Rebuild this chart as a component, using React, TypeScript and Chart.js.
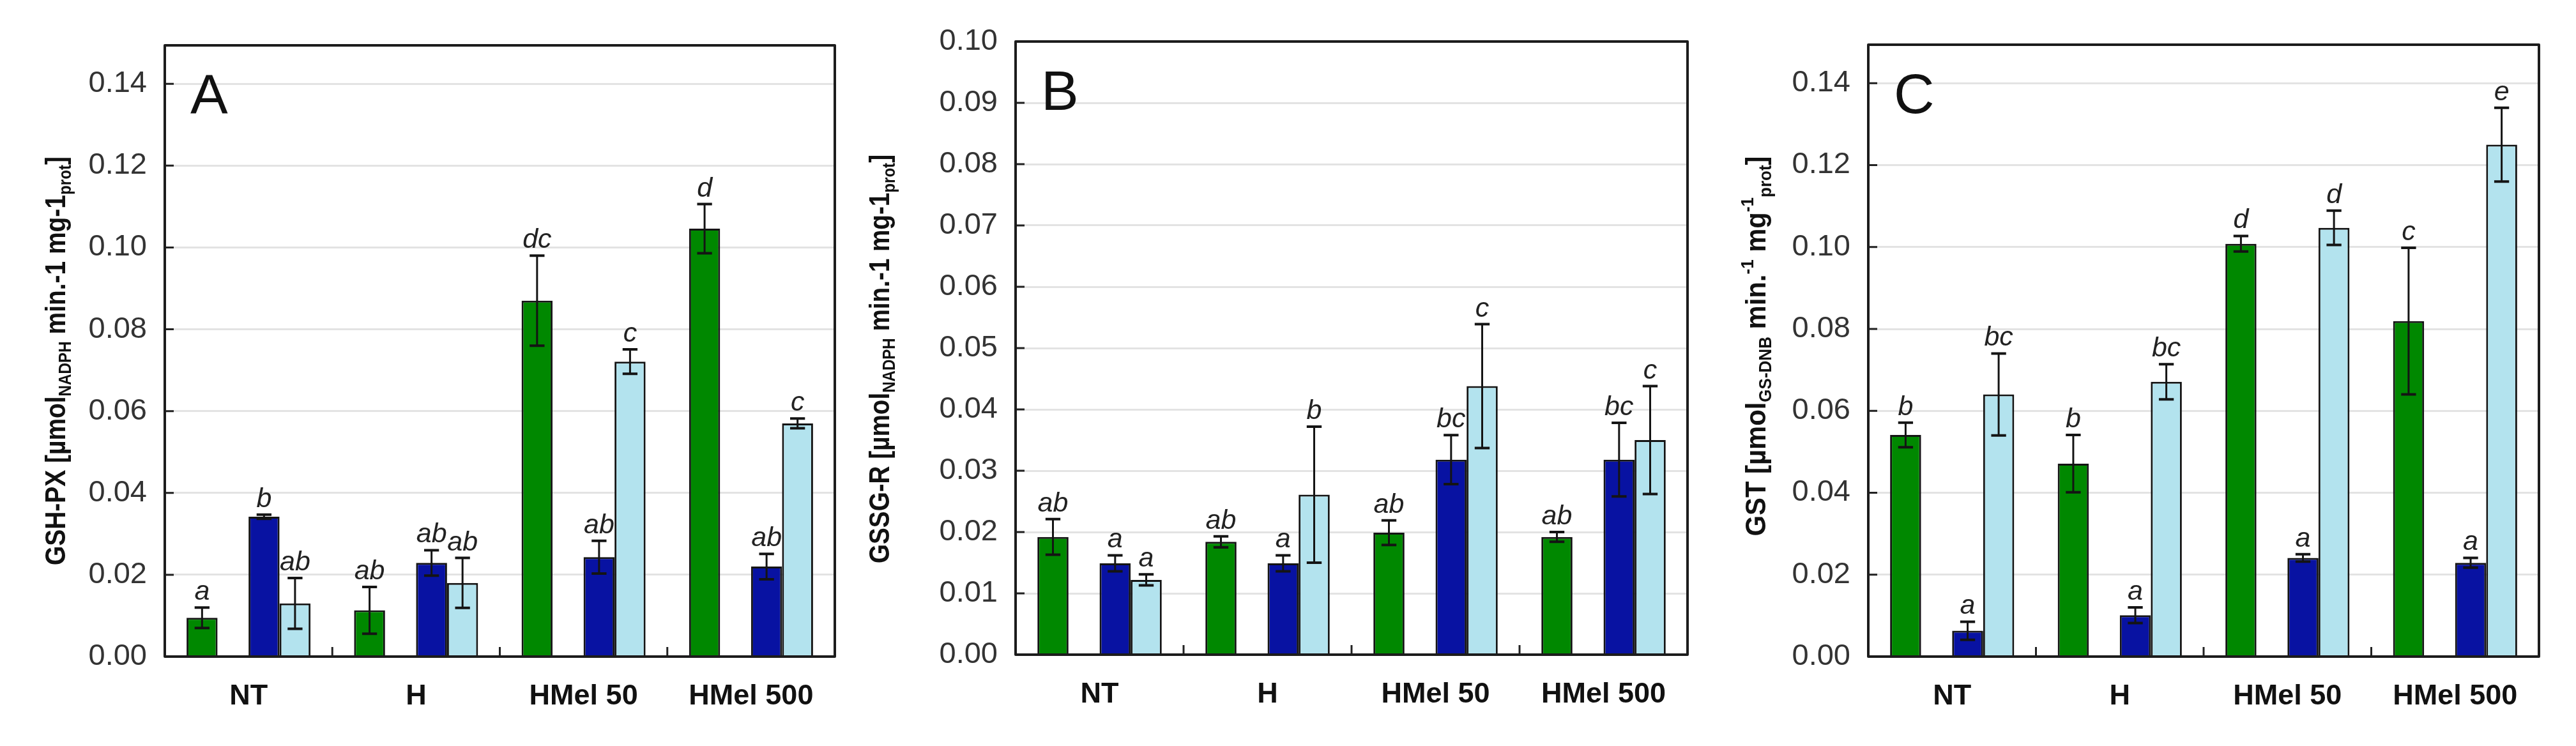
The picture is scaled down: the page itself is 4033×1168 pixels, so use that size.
import React, { useEffect, useRef } from 'react';
import { Chart, registerables } from 'chart.js';

Chart.register(...registerables);

// ---------- DATA ----------
const categories = ['NT', 'H', 'HMel 50', 'HMel 500'];

// Panel A: GSH-PX
const gshpxGreen = [0.0095, 0.0113, 0.087, 0.1046];
const gshpxGreenErr = [0.0025, 0.0057, 0.011, 0.006];
const gshpxBlue = [0.0342, 0.0229, 0.0243, 0.022];
const gshpxBlueErr = [0.0005, 0.0031, 0.0040, 0.0031];
const gshpxLight = [0.013, 0.018, 0.0721, 0.057];
const gshpxLightErr = [0.0062, 0.0061, 0.0030, 0.0012];
const gshpxLettersGreen = ['a', 'ab', 'dc', 'd'];
const gshpxLettersBlue = ['b', 'ab', 'ab', 'ab'];
const gshpxLettersLight = ['ab', 'ab', 'c', 'c'];
const gshpxTicks = [0, 0.02, 0.04, 0.06, 0.08, 0.1, 0.12, 0.14];

// Panel B: GSSG-R
const gssgrGreen = [0.0192, 0.0184, 0.0199, 0.0192];
const gssgrGreenErr = [0.0029, 0.0009, 0.0020, 0.0008];
const gssgrBlue = [0.0149, 0.0149, 0.0318, 0.0318];
const gssgrBlueErr = [0.0013, 0.0013, 0.0040, 0.0060];
const gssgrLight = [0.0122, 0.0261, 0.0438, 0.0350];
const gssgrLightErr = [0.0009, 0.0111, 0.0101, 0.0088];
const gssgrLettersGreen = ['ab', 'ab', 'ab', 'ab'];
const gssgrLettersBlue = ['a', 'a', 'bc', 'bc'];
const gssgrLettersLight = ['a', 'b', 'c', 'c'];
const gssgrTicks = [0, 0.01, 0.02, 0.03, 0.04, 0.05, 0.06, 0.07, 0.08, 0.09, 0.1];

// Panel C: GST
const gstGreen = [0.0541, 0.0471, 0.1008, 0.0819];
const gstGreenErr = [0.0030, 0.0070, 0.0019, 0.0179];
const gstBlue = [0.0063, 0.0101, 0.0241, 0.0229];
const gstBlueErr = [0.0022, 0.0019, 0.0009, 0.0012];
const gstLight = [0.0640, 0.0671, 0.1047, 0.1250];
const gstLightErr = [0.0100, 0.0043, 0.0042, 0.0090];
const gstLettersGreen = ['b', 'b', 'd', 'c'];
const gstLettersBlue = ['a', 'a', 'a', 'a'];
const gstLettersLight = ['bc', 'bc', 'd', 'e'];
const gstTicks = [0, 0.02, 0.04, 0.06, 0.08, 0.1, 0.12, 0.14];

// ---------- STYLE ----------
const GREEN = '#008800';
const BLUE = '#0812a2';
const LIGHT = '#b3e3ee';
const EDGE = '#141414';
const FONT = '"Liberation Sans", Arial, sans-serif';
const TITLE_FONT = '"Liberation Sans", Arial, sans-serif';
const TITLE_SIZE = 45;

type Seg = { t: string; k: 'n' | 'sub' | 'sup' };

type Panel = {
  letter: string;
  left: number;
  width: number;
  axisW: number;
  padRight: number;
  padTop: number;
  xAxisH: number;
  yMax: number;
  ticks: number[];
  green: number[]; greenErr: number[];
  blue: number[]; blueErr: number[];
  light: number[]; lightErr: number[];
  lg: string[]; lb: string[]; ll: string[];
  title: Seg[];
  titleX: number;
  titleY: number;
  titleLen: number;
};

const panels: Panel[] = [
  {
    letter: 'A', left: 0, width: 1344, axisW: 258, padRight: 37, padTop: 71, xAxisH: 140,
    yMax: 0.1494, ticks: gshpxTicks,
    green: gshpxGreen, greenErr: gshpxGreenErr, blue: gshpxBlue, blueErr: gshpxBlueErr,
    light: gshpxLight, lightErr: gshpxLightErr,
    lg: gshpxLettersGreen, lb: gshpxLettersBlue, ll: gshpxLettersLight,
    title: [
      { t: 'GSH-PX [µmol', k: 'n' }, { t: 'NADPH', k: 'sub' },
      { t: ' min.-1 mg-1', k: 'n' }, { t: 'prot', k: 'sub' }, { t: ']', k: 'n' },
    ],
    titleX: 90, titleY: 565, titleLen: 640,
  },
  {
    letter: 'B', left: 1344, width: 1344, axisW: 246, padRight: 46, padTop: 65, xAxisH: 143,
    yMax: 0.1, ticks: gssgrTicks,
    green: gssgrGreen, greenErr: gssgrGreenErr, blue: gssgrBlue, blueErr: gssgrBlueErr,
    light: gssgrLight, lightErr: gssgrLightErr,
    lg: gssgrLettersGreen, lb: gssgrLettersBlue, ll: gssgrLettersLight,
    title: [
      { t: 'GSSG-R [µmol', k: 'n' }, { t: 'NADPH', k: 'sub' },
      { t: ' min.-1 mg-1', k: 'n' }, { t: 'prot', k: 'sub' }, { t: ']', k: 'n' },
    ],
    titleX: 36, titleY: 562, titleLen: 640,
  },
  {
    letter: 'C', left: 2688, width: 1345, axisW: 237, padRight: 58, padTop: 70, xAxisH: 140,
    yMax: 0.1494, ticks: gstTicks,
    green: gstGreen, greenErr: gstGreenErr, blue: gstBlue, blueErr: gstBlueErr,
    light: gstLight, lightErr: gstLightErr,
    lg: gstLettersGreen, lb: gstLettersBlue, ll: gstLettersLight,
    title: [
      { t: 'GST [µmol', k: 'n' }, { t: 'GS-DNB', k: 'sub' },
      { t: ' min.', k: 'n' }, { t: '-1', k: 'sup' }, { t: ' mg', k: 'n' },
      { t: '-1', k: 'sup' }, { t: 'prot', k: 'sub' }, { t: ']', k: 'n' },
    ],
    titleX: 64, titleY: 542, titleLen: 595,
  },
];

function drawTitle(ctx: CanvasRenderingContext2D, p: Panel) {
  const size = TITLE_SIZE;
  const mk = (k: string) => `bold ${k === 'n' ? size : Math.round(size * 0.62)}px ${TITLE_FONT}`;
  let w = 0;
  for (const s of p.title) { ctx.font = mk(s.k); w += ctx.measureText(s.t).width; }
  const sx = p.titleLen / w;
  ctx.save();
  ctx.translate(p.titleX, p.titleY);
  ctx.rotate(-Math.PI / 2);
  ctx.scale(sx, 1);
  ctx.fillStyle = '#111';
  ctx.textBaseline = 'middle';
  ctx.textAlign = 'left';
  let x = -w / 2;
  for (const s of p.title) {
    ctx.font = mk(s.k);
    const dy = s.k === 'sub' ? size * 0.3 : s.k === 'sup' ? -size * 0.32 : 0;
    ctx.fillText(s.t, x, dy);
    x += ctx.measureText(s.t).width;
  }
  ctx.restore();
}

function PanelChart({ p }: { p: Panel }) {
  const ref = useRef<HTMLCanvasElement | null>(null);
  useEffect(() => {
    const canvas = ref.current;
    if (!canvas) return;
    const deco = {
      id: 'deco',
      afterDatasetsDraw(chart: any) {
        const ctx: CanvasRenderingContext2D = chart.ctx;
        const ys = chart.scales.y;
        const groups: [number, number[], number[], string[]][] = [
          [0, p.green, p.greenErr, p.lg],
          [2, p.blue, p.blueErr, p.lb],
          [3, p.light, p.lightErr, p.ll],
        ];
        ctx.save();
        for (const [di, vals, errs, lets] of groups) {
          const meta = chart.getDatasetMeta(di);
          meta.data.forEach((bar: any, j: number) => {
            const x = bar.x;
            const w = bar.width;
            const yt = ys.getPixelForValue(vals[j] + errs[j]);
            const yb = ys.getPixelForValue(Math.max(0, vals[j] - errs[j]));
            const cap = w * 0.24;
            ctx.strokeStyle = EDGE;
            ctx.lineWidth = 3;
            ctx.beginPath();
            ctx.moveTo(x, yt); ctx.lineTo(x, yb);
            ctx.stroke();
            ctx.lineWidth = 4;
            ctx.beginPath();
            ctx.moveTo(x - cap, yt); ctx.lineTo(x + cap, yt);
            ctx.moveTo(x - cap, yb); ctx.lineTo(x + cap, yb);
            ctx.stroke();
            ctx.fillStyle = '#222';
            ctx.font = `italic 43px ${FONT}`;
            ctx.textAlign = 'center';
            ctx.textBaseline = 'alphabetic';
            ctx.fillText(lets[j], x, yt - 12);
          });
        }
        ctx.restore();
      },
      afterDraw(chart: any) {
        const ctx: CanvasRenderingContext2D = chart.ctx;
        const a = chart.chartArea;
        const ys = chart.scales.y;
        const xs = chart.scales.x;
        ctx.save();
        ctx.strokeStyle = '#222';
        ctx.lineWidth = 3;
        ctx.beginPath();
        for (const v of p.ticks) {
          if (v === 0) continue;
          const yy = ys.getPixelForValue(v);
          ctx.moveTo(a.left, yy); ctx.lineTo(a.left + 14, yy);
        }
        for (let i = 1; i < categories.length; i++) {
          const xx = (xs.getPixelForValue(i - 1) + xs.getPixelForValue(i)) / 2;
          ctx.moveTo(xx, a.bottom); ctx.lineTo(xx, a.bottom - 15);
        }
        ctx.stroke();
        ctx.strokeStyle = '#1c1c1c';
        ctx.lineWidth = 4;
        ctx.lineJoin = 'round';
        ctx.strokeRect(a.left, a.top, a.right - a.left, a.bottom - a.top);
        ctx.fillStyle = '#111';
        ctx.font = `88px ${FONT}`;
        ctx.textAlign = 'left';
        ctx.textBaseline = 'alphabetic';
        ctx.fillText(p.letter, a.left + 40, a.top + 107);
        ctx.restore();
        drawTitle(ctx, p);
      },
    };

    const chart = new Chart(canvas, {
      type: 'bar',
      data: {
        labels: categories,
        datasets: [
          { label: 'g', data: p.green, backgroundColor: GREEN, borderColor: EDGE, borderWidth: 3 },
          { label: 'spacer', data: categories.map(() => null), backgroundColor: 'transparent', borderWidth: 0 },
          { label: 'b', data: p.blue, backgroundColor: BLUE, borderColor: EDGE, borderWidth: 3 },
          { label: 'l', data: p.light, backgroundColor: LIGHT, borderColor: EDGE, borderWidth: 3 },
        ],
      },
      options: {
        responsive: false,
        animation: false,
        devicePixelRatio: 1,
        layout: { padding: { left: 0, right: p.padRight, top: p.padTop, bottom: 0 } },
        datasets: { bar: { categoryPercentage: 0.74, barPercentage: 1.0 } },
        plugins: { legend: { display: false }, tooltip: { enabled: false }, title: { display: false } },
        scales: {
          x: {
            type: 'category',
            grid: { display: false, drawTicks: false },
            border: { display: false },
            ticks: {
              color: '#111',
              font: { family: FONT, size: 45, weight: 'bold' },
              padding: 36,
              maxRotation: 0,
              autoSkip: false,
            },
            afterFit: (s: any) => { s.height = p.xAxisH; },
          },
          y: {
            min: 0,
            max: p.yMax,
            grid: {
              drawTicks: false,
              lineWidth: 3,
              color: (c: any) => (c.tick && c.tick.value === 0 ? 'rgba(0,0,0,0)' : '#e3e3e3'),
            },
            border: { display: false },
            ticks: {
              color: '#333',
              font: { family: FONT, size: 47 },
              padding: 28,
              autoSkip: false,
              callback: (v: any) => Number(v).toFixed(2),
            },
            afterBuildTicks: (s: any) => { s.ticks = p.ticks.map((v) => ({ value: v })); },
            afterFit: (s: any) => { s.width = p.axisW; },
          },
        },
      },
      plugins: [deco],
    } as any);
    return () => chart.destroy();
  }, [p]);
  return (
    <canvas
      ref={ref}
      width={p.width}
      height={1168}
      style={{ position: 'absolute', left: p.left, top: 0, width: p.width, height: 1168 }}
    />
  );
}

export default function App() {
  return (
    <div style={{ position: 'absolute', left: 0, top: 0, width: 4033, height: 1168, background: '#fff', overflow: 'hidden' }}>
      {panels.map((p) => (
        <PanelChart key={p.letter} p={p} />
      ))}
    </div>
  );
}
